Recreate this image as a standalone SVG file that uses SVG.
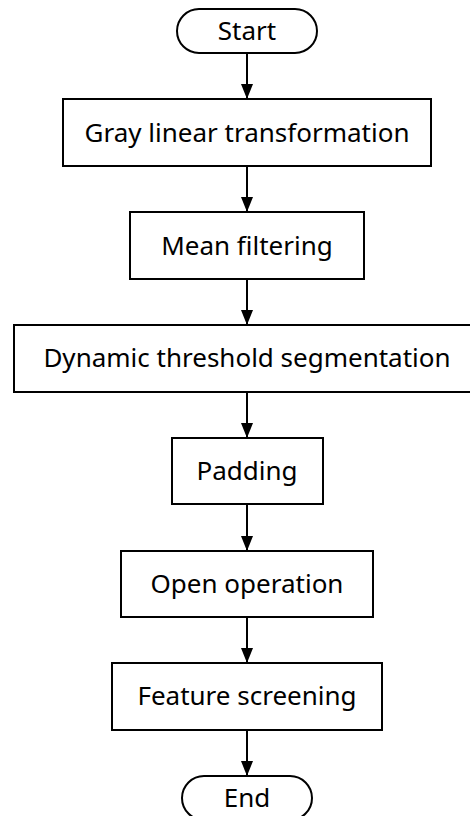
<svg xmlns="http://www.w3.org/2000/svg" width="470" height="816" viewBox="0 0 470 816">
  <style>
    .box { fill: #ffffff; stroke: #000000; stroke-width: 2; }
    .label { font-family: "Noto Sans", "Open Sans", sans-serif; font-size: 26px; fill: #000000; text-anchor: middle; }
    .edge { stroke: #000000; stroke-width: 2; fill: none; marker-end: url(#arrow); }
  </style>
  <defs>
    <marker id="arrow" markerWidth="12" markerHeight="15" refX="15" refY="6" orient="auto" markerUnits="userSpaceOnUse">
      <path d="M0,0 L15,6 L0,12 Z" fill="#000000"/>
    </marker>
  </defs>
  <rect width="470" height="816" fill="#ffffff"/>

  <!-- vertical flow arrows between consecutive steps -->
  <g id="connectors">
    <line class="edge" x1="247" y1="53" x2="247" y2="99"/>
    <line class="edge" x1="247" y1="166" x2="247" y2="212"/>
    <line class="edge" x1="247" y1="279" x2="247" y2="325"/>
    <line class="edge" x1="247" y1="392" x2="247" y2="438"/>
    <line class="edge" x1="247" y1="504" x2="247" y2="551"/>
    <line class="edge" x1="247" y1="617" x2="247" y2="663"/>
    <line class="edge" x1="247" y1="730" x2="247" y2="776"/>
  </g>

  <g id="start">
    <rect class="box" x="177" y="9" width="140" height="44" rx="22" ry="22"/>
    <text class="label" x="247" y="40">Start</text>
  </g>
  <g id="gray-linear-transformation">
    <rect class="box" x="63" y="99" width="368" height="67"/>
    <text class="label" x="247" y="142">Gray linear transformation</text>
  </g>
  <g id="mean-filtering">
    <rect class="box" x="130" y="212" width="234" height="67"/>
    <text class="label" x="247" y="255">Mean filtering</text>
  </g>
  <g id="dynamic-threshold-segmentation">
    <rect class="box" x="14" y="325" width="466" height="67"/>
    <text class="label" x="247" y="367">Dynamic threshold segmentation</text>
  </g>
  <g id="padding">
    <rect class="box" x="172" y="438" width="151" height="66"/>
    <text class="label" x="247" y="480">Padding</text>
  </g>
  <g id="open-operation">
    <rect class="box" x="121" y="551" width="252" height="66"/>
    <text class="label" x="247" y="593">Open operation</text>
  </g>
  <g id="feature-screening">
    <rect class="box" x="112" y="663" width="270" height="67"/>
    <text class="label" x="247" y="705">Feature screening</text>
  </g>
  <g id="end">
    <rect class="box" x="182" y="776" width="130" height="44" rx="22" ry="22"/>
    <text class="label" x="247" y="807">End</text>
  </g>
</svg>
